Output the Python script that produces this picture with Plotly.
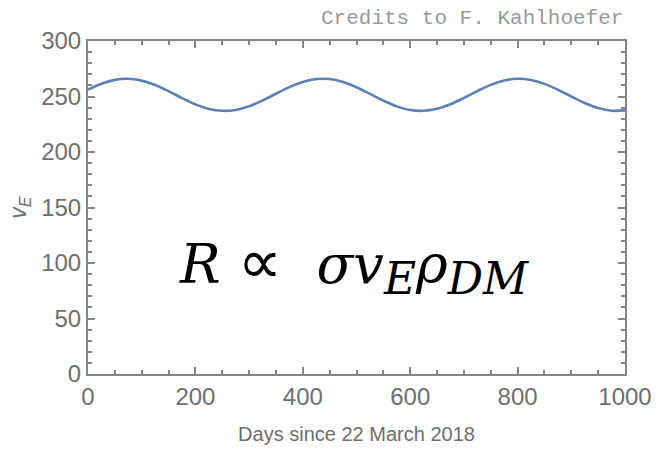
import plotly.graph_objects as go

# Earth's speed through the galactic halo, sampled every 25 days
days = [0, 25, 50, 75, 100, 125, 150, 175, 200, 225, 250, 275, 300, 325, 350,
        375, 400, 425, 450, 475, 500, 525, 550, 575, 600, 625, 650, 675, 700,
        725, 750, 775, 800, 825, 850, 875, 900, 925, 950, 975, 1000]
v_earth = [256.2, 261.5, 265.0, 266.0, 264.3, 260.4, 254.8, 248.6, 242.9, 238.8,
           237.1, 237.9, 241.2, 246.4, 252.5, 258.5, 263.1, 265.7, 265.7, 263.0,
           258.3, 252.4, 246.3, 241.1, 237.8, 237.1, 238.9, 243.0, 248.7, 254.9,
           260.5, 264.4, 266.0, 264.9, 261.4, 256.1, 250.0, 244.1, 239.6, 237.2,
           237.5]

x_ticks = [0, 200, 400, 600, 800, 1000]
y_ticks = [0, 50, 100, 150, 200, 250, 300]

frame_col = "#858585"
label_col = "#6e6e6e"

fig = go.Figure()
fig.add_trace(go.Scatter(
    x=days, y=v_earth, mode="lines", line_shape="spline",
    line=dict(color="#5E81B5", width=2.6), hoverinfo="skip", showlegend=False,
))

axis_common = dict(
    showgrid=False, zeroline=False, showline=True, linecolor=frame_col,
    linewidth=2, mirror="allticks", ticks="inside", tickcolor=frame_col,
    tickwidth=1.5, ticklen=7,
    tickfont=dict(family="Liberation Sans, Arial", size=24, color=label_col),
)

fig.update_xaxes(
    range=[0, 1000], tickvals=x_ticks, ticktext=[str(v) for v in x_ticks],
    minor=dict(dtick=50, ticks="inside", ticklen=4, tickcolor=frame_col, tickwidth=1.5),
    title=dict(text="Days since 22 March 2018", standoff=18,
               font=dict(family="Liberation Sans, Arial", size=20, color=label_col)),
    **axis_common,
)
fig.update_yaxes(
    range=[0, 300], tickvals=y_ticks, ticktext=[str(v) for v in y_ticks],
    minor=dict(dtick=10, ticks="inside", ticklen=4, tickcolor=frame_col, tickwidth=1.5),
    title=dict(text="<i>v</i><sub><i>E</i></sub>", standoff=8,
               font=dict(family="Liberation Sans, Arial", size=23, color=label_col)),
    **axis_common,
)

# rate formula in the middle of the frame
sub = '<sub><span style="font-size:44px"><i>{}</i></span></sub>'
prop = '<span style="font-family:\'DejaVu Sans\';font-size:62px">∝</span>'
formula = ("<i>R</i> " + prop + "  <i>σ</i><i>v</i>" + sub.format("E")
           + "<i>ρ</i>" + sub.format("DM"))
fig.add_annotation(
    xref="paper", yref="paper", x=0.495, y=0.33, xanchor="center", yanchor="middle",
    showarrow=False, text=formula,
    font=dict(family="DejaVu Serif", size=54, color="#000000"),
)
fig.add_annotation(
    xref="paper", yref="paper", x=1.0, y=1.0, xanchor="right", yanchor="bottom",
    yshift=9, showarrow=False,
    text="Credits to F. Kahlhoefer",
    font=dict(family="Liberation Mono, Courier New", size=21, color="#9a9a9a"),
)

fig.update_layout(
    width=664, height=454, autosize=False,
    margin=dict(l=88, r=32, t=41, b=77),
    paper_bgcolor="white", plot_bgcolor="white",
)

fig.write_html("out.html")
